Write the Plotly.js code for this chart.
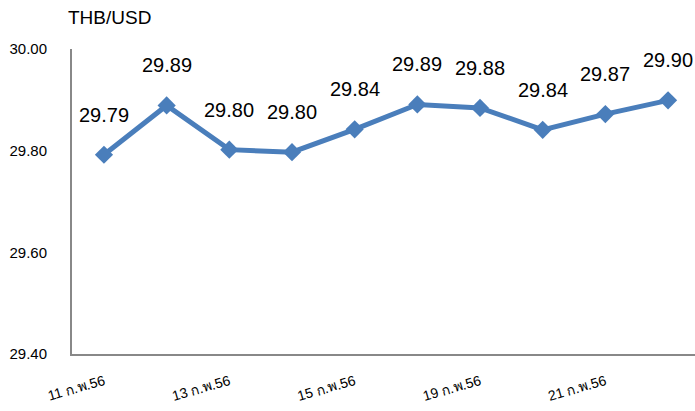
<!DOCTYPE html>
<html>
<head>
<meta charset="utf-8">
<script src="https://cdn.plot.ly/plotly-3.0.1.min.js"></script>
<style>html,body{margin:0;padding:0;background:#fff;}#chart{width:695px;height:411px;}</style>
</head>
<body>
<div id="chart"></div>
<script>
const categories = ['11 ก.พ.56','12 ก.พ.56','13 ก.พ.56','14 ก.พ.56','15 ก.พ.56','18 ก.พ.56','19 ก.พ.56','20 ก.พ.56','21 ก.พ.56','22 ก.พ.56'];
const rates = [29.792, 29.889, 29.802, 29.797, 29.842, 29.891, 29.884, 29.841, 29.872, 29.899];
const xTickLabels = ['11 ก.พ.56','13 ก.พ.56','15 ก.พ.56','19 ก.พ.56','21 ก.พ.56'];
const yTicks = [29.40, 29.60, 29.80, 30.00];
const unitLabel = 'THB/USD';

const lineColor = '#4A7EBB';
const fontFam = 'Arial, "Liberation Sans", sans-serif';

const trace = {
  x: categories,
  y: rates,
  type: 'scatter',
  mode: 'lines+markers',
  line: {color: lineColor, width: 5},
  marker: {symbol: 'diamond', size: 14, color: lineColor},
  hoverinfo: 'skip'
};

const annotations = categories.map((c, i) => ({
  x: c, y: rates[i], xref: 'x', yref: 'y',
  text: rates[i].toFixed(2),
  showarrow: false, yshift: 40,
  font: {family: fontFam, size: 20, color: '#000'}
}));

const layout = {
  width: 695, height: 411,
  margin: {l: 72, r: 0, t: 49, b: 57},
  paper_bgcolor: '#fff', plot_bgcolor: '#fff',
  showlegend: false,
  title: {text: unitLabel, x: 68/695, xanchor: 'left', xref: 'container', y: 1 - 17/411, yanchor: 'middle', yref: 'container',
          font: {family: fontFam, size: 19, color: '#000'}},
  xaxis: {
    type: 'category', range: [-0.51, 9.43],
    tickvals: xTickLabels, ticktext: xTickLabels, tickangle: -16,
    showgrid: false, zeroline: false, showline: true, linecolor: '#888888', linewidth: 2,
    ticks: '', ticklabelstandoff: 12,
    tickfont: {family: fontFam, size: 14, color: '#000'}
  },
  yaxis: {
    range: [29.4, 30.0], tickvals: yTicks, tickformat: '.2f',
    showgrid: false, zeroline: false, showline: true, linecolor: '#888888', linewidth: 2,
    ticks: '', ticklabelstandoff: 20,
    tickfont: {family: fontFam, size: 15, color: '#000'}
  },
  annotations: annotations
};

Plotly.newPlot('chart', [trace], layout, {displayModeBar: false, staticPlot: true});
</script>
</body>
</html>
